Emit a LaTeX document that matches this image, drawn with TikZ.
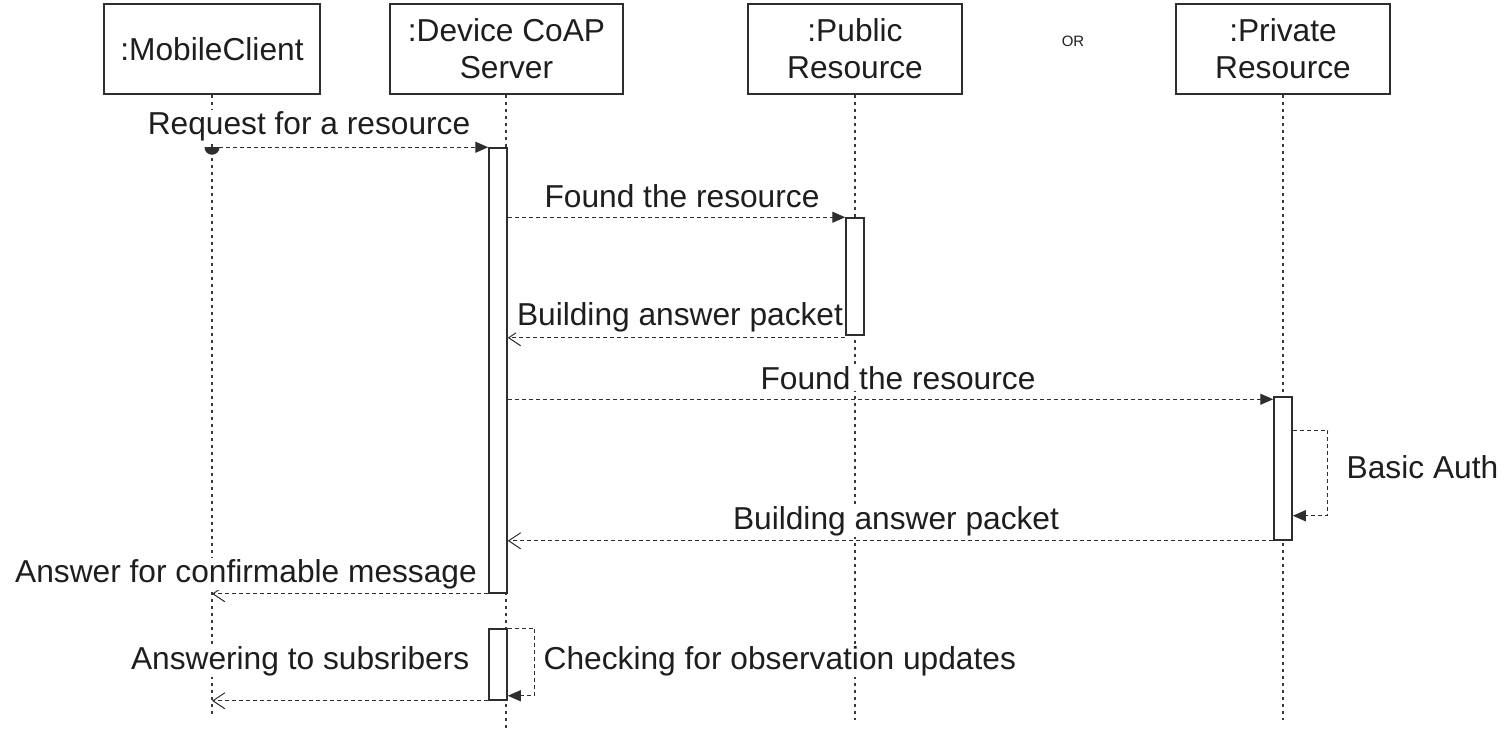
\documentclass[tikz,border=0pt]{standalone}
\usepackage{fontspec}
\setmainfont{Liberation Sans}
\usetikzlibrary{arrows.meta}
\definecolor{linec}{HTML}{2E2E2E}
\definecolor{lifec}{HTML}{3A3A3A}
\definecolor{txtc}{HTML}{1E1E1E}
\newcommand\lblfont{\fontsize{31.7}{37}\selectfont}
\newcommand\orfont{\fontsize{15}{17}\selectfont}

\tikzset{
  head/.style={draw=linec, line width=1.5pt, fill=white, minimum height=90pt,
    inner sep=0pt, align=center, font=\lblfont, text=txtc},
  bar/.style={draw=linec, line width=1.5pt, fill=white, minimum width=18pt, inner sep=0pt},
  life/.style={draw=lifec, line width=1.2pt, dash pattern=on 3pt off 4pt},
  msg/.style={draw=linec, line width=1.3pt, dash pattern=on 4pt off 3pt},
  sync/.style={msg, -{Triangle[length=13pt,width=11pt]}},
  reply/.style={msg, -{Straight Barb[length=12pt,width=16pt,line width=1pt]}},
  lbl/.style={font=\lblfont, text=txtc, fill=white, inner sep=1.5pt, anchor=base},
}

\begin{document}
\begin{tikzpicture}[x=1pt,y=-1pt]
\useasboundingbox (0,0) rectangle (1505,731);

% participants
\node[head, minimum width=216pt] (mc)  at (212,49)   {:MobileClient};
\node[head, minimum width=233pt] (srv) at (506.5,49) {:Device CoAP\\Server};
\node[head, minimum width=214pt] (pub) at (855,49)   {:Public\\Resource};
\node[head, minimum width=214pt] (pri) at (1283,49)  {:Private\\Resource};
\node[font=\orfont, text=txtc, anchor=base] (or) at (1073,46) {OR};

% lifeline ends
\coordinate (mcend)  at (212,717);
\coordinate (srvend) at (506,731);
\coordinate (pubend) at (855,720);
\coordinate (priend) at (1283,720);

\draw[life] (mc.south)  -- (mcend);
\draw[life] (srv.south -| srvend) -- (srvend);
\draw[life] (pub.south) -- (pubend);
\draw[life] (pri.south) -- (priend);

% activation bars
\node[bar, minimum height=445pt] (srvA)   at (498,370.5) {};
\node[bar, minimum height=71pt]  (srvB)   at (498,664.5) {};
\node[bar, minimum height=117pt] (pubbar) at (855,276.5) {};
\node[bar, minimum height=143pt] (pribar) at (1283,468.5) {};

% messages
\coordinate (m1) at (mc.south |- srvA.north);
\begin{scope}
  \clip (m1) ++(-10,0) rectangle ++(20,10);
  \fill[linec] (m1) circle[radius=7.5pt];
\end{scope}
\draw[sync] (m1) -- (srvA.north west);

\draw[sync] (srvA.east |- pubbar.north) -- (pubbar.north west);

\coordinate (m3) at ([yshift=-2pt]pubbar.south west);
\draw[reply] (m3) -- (srvA.east |- m3);

\coordinate (m4) at ([yshift=-3pt]pribar.north west);
\draw[sync] (srvA.east |- m4) -- (m4);

\draw[sync] ([yshift=-34pt]pribar.north east) -- ++(35,0) |- ([yshift=25pt]pribar.south east);

\draw[reply] (pribar.south west) -- (srvA.east |- pribar.south west);

\draw[reply] (srvA.south west) -- (mc.south |- srvA.south west);

\draw[sync] (srvB.north east) -- ++(27,0) |- ([yshift=5pt]srvB.south east);

\draw[reply] (srvB.south west) -- (mc.south |- srvB.south west);

% message labels
\node[lbl] (l1) at (309,134) {Request for a resource};
\node[lbl] (l2) at (682,207) {Found the resource};
\node[lbl] (l3) at (680,325) {Building answer packet};
\node[lbl] (l4) at (898,389) {Found the resource};
\node[lbl, anchor=base west] (l5) at (1345,478) {Basic Auth};
\node[lbl] (l6) at (896,529) {Building answer packet};
\node[lbl] (l7) at (246,582) {Answer for confirmable message};
\node[lbl, anchor=base east] (l8) at (471,669) {Answering to subsribers};
\node[lbl, anchor=base west] (l9) at (542,669) {Checking for observation updates};
\end{tikzpicture}
\end{document}
